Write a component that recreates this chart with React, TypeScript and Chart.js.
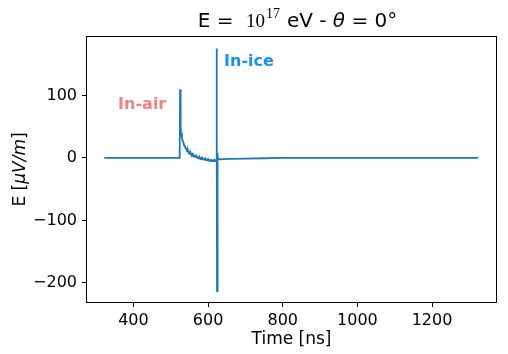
import React, { useEffect, useRef } from "react";
import { Chart, registerables } from "chart.js";

Chart.register(...registerables);

// ---- data ----
const timeNs = [
  322, 400, 500, 524, 525, 526, 527, 528, 530, 532, 534, 536, 538, 540, 542, 544, 546, 548,
  550, 552, 554, 556, 558, 560, 562, 564, 566, 568, 570, 572, 574, 576, 578, 580, 582, 584,
  586, 588, 590, 592, 594, 596, 598, 600, 602, 604, 606, 608, 610, 612, 614, 616, 618, 620,
  622, 623, 623.5, 624, 625, 626, 628, 632, 640, 660, 700, 750, 800, 900, 1000, 1100, 1200, 1324,
];
const fieldMuVm = [
  0, 0, 0, 0, 110, 72, 50, 40, 33, 27, 25, 20, 19, 15, 15, 11, 12, 8,
  9, 6, 7, 4, 6, 3, 4, 2, 3, 1, 2, 0, 1, -1, 0.5, -1.5, 0, -2,
  -1, -2.5, -1.5, -3, -2, -3.5, -2.5, -4, -3, -4.5, -3.5, -5, -4, -5, -4, -5, -3.5, -4.5,
  -3, 175, 20, -213, 8, -3, -1, -2.5, -2, -1.5, -1, -0.5, 0, 0, 0, 0, 0, 0,
];
const xTicks = [400, 600, 800, 1000, 1200];
const yTicks = [-200, -100, 0, 100];
const xLimits = [273, 1374];
const yLimits = [-232, 195];
const labelTexts = ["In-air", "In-ice"];
const labelAnchorsX = [359, 643];
const labelAnchorsY = [78, 147];

const SANS = "'DejaVu Sans', sans-serif";
const SERIF = "'Liberation Serif', 'DejaVu Serif', serif";
const LINE = "#1f77b4";
const labelColors = ["#f47f7f", "#1e8fee"];

const decorPlugin = {
  id: "decor",
  afterDraw(chart: any) {
    const ctx = chart.ctx as CanvasRenderingContext2D;
    const a = chart.chartArea;
    const xs = chart.scales.x;
    const ys = chart.scales.y;
    ctx.save();
    // frame
    ctx.strokeStyle = "#000";
    ctx.lineWidth = 1;
    ctx.strokeRect(Math.round(a.left) + 0.5, Math.round(a.top) + 0.5,
      Math.round(a.right - a.left) - 1, Math.round(a.bottom - a.top) - 1);

    // annotations
    ctx.font = `bold 16px ${SANS}`;
    ctx.textBaseline = "alphabetic";
    ctx.textAlign = "left";
    labelTexts.forEach((t, i) => {
      ctx.fillStyle = labelColors[i];
      ctx.fillText(t, xs.getPixelForValue(labelAnchorsX[i]), ys.getPixelForValue(labelAnchorsY[i]));
    });

    // title
    ctx.fillStyle = "#000";
    const pieces: { t: string; f: string; dy: number; gap: number }[] = [
      { t: "E = ", f: `20px ${SANS}`, dy: 0, gap: 0 },
      { t: "10", f: `19px ${SERIF}`, dy: 0, gap: 6 },
      { t: "17", f: `14px ${SERIF}`, dy: -9, gap: 1 },
      { t: "eV - ", f: `20px ${SANS}`, dy: 0, gap: 7 },
      { t: "θ", f: `italic 20px ${SANS}`, dy: 0, gap: 0 },
      { t: " = 0°", f: `20px ${SANS}`, dy: 0, gap: 0 },
    ];
    let total = 0;
    const widths = pieces.map((p) => {
      ctx.font = p.f;
      const w = ctx.measureText(p.t).width;
      total += w + p.gap;
      return w;
    });
    let x = (a.left + a.right) / 2 - total / 2 + 6;
    const by = 27;
    pieces.forEach((p, i) => {
      ctx.font = p.f;
      x += p.gap;
      ctx.fillText(p.t, x, by + p.dy);
      x += widths[i];
    });

    // x axis title
    ctx.font = `17px ${SANS}`;
    ctx.textAlign = "center";
    ctx.fillText("Time [ns]", (a.left + a.right) / 2, 344);

    // y axis title
    ctx.translate(25, (a.top + a.bottom) / 2);
    ctx.rotate(-Math.PI / 2);
    const yp: { t: string; f: string }[] = [
      { t: "E [", f: `17px ${SANS}` },
      { t: "μV/m", f: `italic 17px ${SANS}` },
      { t: "]", f: `17px ${SANS}` },
    ];
    let yt = 0;
    const yw = yp.map((p) => {
      ctx.font = p.f;
      const w = ctx.measureText(p.t).width;
      yt += w;
      return w;
    });
    ctx.textAlign = "left";
    let yx = -yt / 2;
    yp.forEach((p, i) => {
      ctx.font = p.f;
      ctx.fillText(p.t, yx, 0);
      yx += yw[i];
    });
    ctx.restore();
  },
};

export default function App() {
  const ref = useRef<HTMLCanvasElement | null>(null);
  useEffect(() => {
    document.body.style.margin = "0";
    const canvas = ref.current!;
    const points = timeNs.map((t, i) => ({ x: t, y: fieldMuVm[i] }));
    const chart = new Chart(canvas, {
      type: "line",
      data: {
        datasets: [
          {
            data: points,
            borderColor: LINE,
            backgroundColor: LINE,
            borderWidth: 1.8,
            pointRadius: 0,
            tension: 0,
            fill: false,
          },
        ],
      },
      options: {
        responsive: false,
        animation: false,
        events: [],
        layout: { padding: { top: 36, right: 11, left: 0, bottom: 0 } },
        plugins: { legend: { display: false }, tooltip: { enabled: false }, title: { display: false } },
        scales: {
          x: {
            type: "linear",
            min: xLimits[0],
            max: xLimits[1],
            afterBuildTicks: (s: any) => {
              s.ticks = xTicks.map((v) => ({ value: v }));
            },
            afterFit: (s: any) => {
              s.height = 51;
            },
            grid: { display: true, drawOnChartArea: false, drawTicks: true, tickLength: 4, color: "#000", lineWidth: 1 },
            border: { display: false },
            ticks: {
              autoSkip: false,
              maxRotation: 0,
              color: "#000",
              padding: 4,
              font: { family: SANS, size: 16 },
              callback: (v: any) => String(v),
            },
          },
          y: {
            type: "linear",
            min: yLimits[0],
            max: yLimits[1],
            afterBuildTicks: (s: any) => {
              s.ticks = yTicks.map((v) => ({ value: v }));
            },
            afterFit: (s: any) => {
              s.width = 86;
            },
            grid: { display: true, drawOnChartArea: false, drawTicks: true, tickLength: 4, color: "#000", lineWidth: 1 },
            border: { display: false },
            ticks: {
              color: "#000",
              padding: 5,
              font: { family: SANS, size: 16 },
              callback: (v: any) => (v < 0 ? "\u2212" + String(-v) : String(v)),
            },
          },
        },
      },
      plugins: [decorPlugin],
    });
    return () => chart.destroy();
  }, []);
  return (
    <div style={{ position: "absolute", left: 0, top: 0, width: 508, height: 354, background: "#fff" }}>
      <canvas ref={ref} width={508} height={354} style={{ width: 508, height: 354, display: "block" }} />
    </div>
  );
}
